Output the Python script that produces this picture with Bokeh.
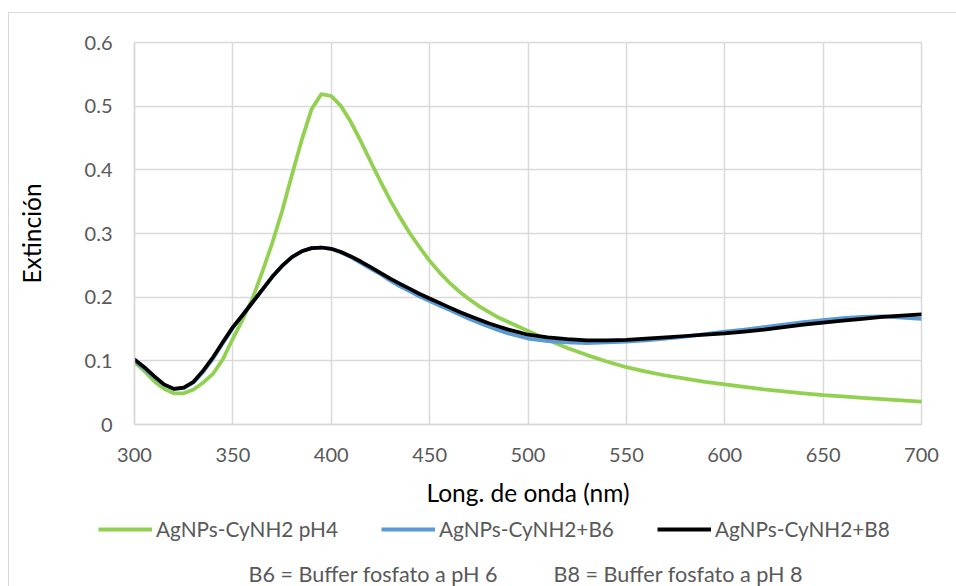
from bokeh.plotting import figure
from bokeh.layouts import column
from bokeh.models import (ColumnDataSource, Legend, LegendItem, Label, FixedTicker,
                          CustomJSTickFormatter, Range1d, InlineStyleSheet)
from bokeh.embed import file_html
from bokeh.resources import INLINE

# Extinction spectra of AgNPs-CyNH2 (wavelength in nm)
wavelength = [300, 305, 310, 315, 320, 325, 330, 335, 340, 345,
              350, 355, 360, 365, 370, 375, 380, 385, 390, 395,
              400, 405, 410, 415, 420, 425, 430, 435, 440, 445,
              450, 455, 460, 465, 470, 475, 480, 485, 490, 495,
              500, 510, 520, 530, 540, 550, 560, 570, 580, 590,
              600, 610, 620, 630, 640, 650, 660, 670, 680, 690, 700]

ext_ph4 = [0.098, 0.084, 0.068, 0.056, 0.049, 0.049, 0.055, 0.066, 0.080, 0.103,
           0.135, 0.165, 0.198, 0.240, 0.285, 0.335, 0.392, 0.447, 0.495, 0.519,
           0.516, 0.500, 0.475, 0.445, 0.413, 0.382, 0.352, 0.325, 0.300, 0.278,
           0.257, 0.239, 0.223, 0.209, 0.197, 0.186, 0.177, 0.168, 0.161, 0.154,
           0.147, 0.133, 0.120, 0.109, 0.099, 0.090, 0.083, 0.077, 0.072, 0.067,
           0.063, 0.059, 0.055, 0.052, 0.049, 0.046, 0.044, 0.042, 0.040, 0.038, 0.036]

ext_b6 = [0.100, 0.088, 0.074, 0.062, 0.056, 0.057, 0.066, 0.083, 0.104, 0.128,
          0.152, 0.172, 0.192, 0.212, 0.232, 0.249, 0.263, 0.272, 0.277, 0.278,
          0.276, 0.270, 0.263, 0.254, 0.245, 0.236, 0.226, 0.217, 0.209, 0.201,
          0.194, 0.187, 0.180, 0.173, 0.166, 0.160, 0.154, 0.148, 0.143, 0.139,
          0.135, 0.131, 0.129, 0.128, 0.129, 0.130, 0.132, 0.135, 0.138, 0.142,
          0.146, 0.149, 0.153, 0.157, 0.161, 0.164, 0.167, 0.169, 0.170, 0.168, 0.166]

ext_b8 = [0.102, 0.090, 0.076, 0.063, 0.056, 0.058, 0.067, 0.085, 0.106, 0.130,
          0.153, 0.172, 0.192, 0.212, 0.232, 0.249, 0.263, 0.272, 0.277, 0.278,
          0.276, 0.271, 0.264, 0.256, 0.247, 0.238, 0.229, 0.221, 0.213, 0.205,
          0.198, 0.191, 0.184, 0.177, 0.171, 0.165, 0.159, 0.154, 0.149, 0.145,
          0.141, 0.137, 0.134, 0.132, 0.132, 0.133, 0.135, 0.137, 0.139, 0.141,
          0.143, 0.146, 0.149, 0.153, 0.157, 0.160, 0.163, 0.166, 0.169, 0.171, 0.173]

series_names = ["AgNPs-CyNH2 pH4", "AgNPs-CyNH2+B6", "AgNPs-CyNH2+B8"]
series_cols = ["ph4", "b6", "b8"]
series_colors = ["#92d050", "#5b9bd5", "#000000"]

x_ticks = [300, 350, 400, 450, 500, 550, 600, 650, 700]
y_ticks = [0, 0.1, 0.2, 0.3, 0.4, 0.5, 0.6]

footnotes = ["B6 = Buffer fosfato a pH 6", "B8 = Buffer fosfato a pH 8"]

FONT = "Lato"
GRID = "#d9d9d9"
TXT = "#595959"
W = 956
H_MAIN = 516
H_KEY = 586 - H_MAIN

src = ColumnDataSource(dict(x=wavelength, ph4=ext_ph4, b6=ext_b6, b8=ext_b8))

# ---- main spectrum plot ----
p = figure(width=W, height=H_MAIN, output_backend="svg", toolbar_location=None,
           x_range=Range1d(300, 700), y_range=Range1d(0, 0.6),
           min_border_left=134, min_border_right=35,
           min_border_top=42, min_border_bottom=H_MAIN - 424)
p.frame_align = False
p.background_fill_color = "white"
p.border_fill_color = None
p.outline_line_color = GRID
p.outline_line_width = 1.5

p.xgrid.ticker = FixedTicker(ticks=x_ticks)
p.ygrid.ticker = FixedTicker(ticks=y_ticks)
for g in (p.xgrid, p.ygrid):
    g.grid_line_color = GRID
    g.grid_line_width = 1.5

p.xaxis.ticker = FixedTicker(ticks=x_ticks)
p.yaxis.ticker = FixedTicker(ticks=y_ticks)
p.yaxis.formatter = CustomJSTickFormatter(
    code="return Math.abs(tick) < 1e-9 ? '0' : tick.toFixed(1);")
for ax in (p.xaxis, p.yaxis):
    ax.axis_line_color = GRID
    ax.axis_line_width = 1.5
    ax.major_tick_line_color = None
    ax.minor_tick_line_color = None
    ax.major_tick_out = 0
    ax.major_tick_in = 0
    ax.major_label_text_font = FONT
    ax.major_label_text_font_size = "20px"
    ax.major_label_text_color = TXT
    ax.axis_label_text_font = FONT
    ax.axis_label_text_font_size = "24.5px"
    ax.axis_label_text_font_style = "normal"
    ax.axis_label_text_color = "#000000"
p.xaxis.major_label_standoff = 23
p.yaxis.major_label_standoff = 22
p.xaxis.axis_label = "Long. de onda (nm)"
p.yaxis.axis_label = "Extinción"
p.xaxis.axis_label_standoff = 13
p.yaxis.axis_label_standoff = 36

for col, color in zip(series_cols, series_colors):
    p.line("x", col, source=src, line_color=color, line_width=3.75,
           line_join="round", line_cap="round")

# ---- legend strip and buffer notes ----
k = figure(width=W, height=H_KEY, output_backend="svg", toolbar_location=None,
           x_range=Range1d(0, 1), y_range=Range1d(0, 1),
           x_axis_location=None, y_axis_location=None,
           min_border=0, min_border_left=0, min_border_right=0,
           min_border_top=0, min_border_bottom=0)
k.frame_align = False
k.grid.visible = False
k.outline_line_color = None
k.background_fill_color = None
k.border_fill_color = None

# the same spectra serve as legend keys here; they lie outside this strip's ranges
keys = [k.line("x", col, source=src, line_color=color, line_width=4)
        for col, color in zip(series_cols, series_colors)]
legend = Legend(items=[LegendItem(label=n, renderers=[r])
                       for n, r in zip(series_names, keys)],
                orientation="horizontal", location=(98, H_KEY - 25),
                glyph_width=54, glyph_height=24, label_height=24,
                label_standoff=4, spacing=43, padding=0, margin=0,
                border_line_color=None, background_fill_alpha=0,
                label_text_font=FONT, label_text_font_size="20.8px",
                label_text_color=TXT)
k.add_layout(legend)

for txt, x0 in zip(footnotes, [248, 553]):
    k.add_layout(Label(x=x0, y=0, x_units="screen", y_units="screen",
                       text=txt, text_font=FONT, text_font_size="21.6px",
                       text_color=TXT, text_baseline="bottom", text_align="left"))

# thin chart-area border (left and top edges)
chart_border = InlineStyleSheet(css="""
:host { position: relative; background: white; }
:host::after {
  content: ""; position: absolute; left: 8px; top: 12px; right: 0; bottom: 0;
  border-left: 1.5px solid #d9d9d9; border-top: 1.5px solid #d9d9d9;
  pointer-events: none;
}
""")

layout = column(p, k, spacing=0, stylesheets=[chart_border])

open("out.html", "w").write(file_html(layout, INLINE))
